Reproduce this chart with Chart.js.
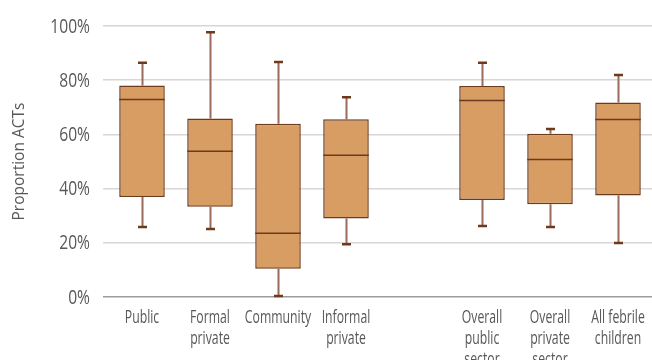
<!DOCTYPE html>
<html>
<head>
<meta charset="utf-8">
<script src="https://cdn.jsdelivr.net/npm/chart.js@4.4.1/dist/chart.umd.min.js"></script>
<style>
  html, body { margin: 0; padding: 0; background: #fff; overflow: hidden; }
  #wrap { width: 652px; height: 360px; position: relative; }
</style>
</head>
<body>
<div id="wrap"><canvas id="boxChart"></canvas></div>
<script>
// categories (the empty slot is the gap between the two groups)
var categories = [
    'Public',
    ['Formal', 'private'],
    'Community',
    ['Informal', 'private'],
    '',
    ['Overall', 'public', 'sector'],
    ['Overall', 'private', 'sector'],
    ['All febrile', 'children']
];
// box plot values, percent
var whiskerLow  = [25.8, 25.1,  0.4, 19.5, null, 26.2, 25.8, 19.9];
var boxLow      = [36.9, 33.3, 10.4, 29.0, null, 35.8, 34.2, 37.5];
var medians     = [72.9, 53.8, 23.5, 52.3, null, 72.5, 50.7, 65.5];
var boxHigh     = [78.0, 65.9, 63.9, 65.6, null, 77.9, 60.2, 71.8];
var whiskerHigh = [86.4, 97.7, 86.7, 73.7, null, 86.4, 62.0, 81.9];
var yTicks = [0, 20, 40, 60, 80, 100];

var FONT = '"Open Sans", "Liberation Sans", sans-serif';
var textColor = '#585858';
var boxFill = '#D79D62';
var darkBrown = '#6E3A1E';
var whiskerColor = '#9A6B5A';

var boxes = categories.map(function (c, i) {
    return boxLow[i] == null ? null : [boxLow[i], boxHigh[i]];
});

// squeezed text, the original uses a condensed face we do not have
function narrowText(ctx, text, x, y, squeeze) {
    ctx.save();
    ctx.translate(x, y);
    ctx.scale(squeeze, 1);
    ctx.fillText(text, 0, 0);
    ctx.restore();
}

var boxPlotExtras = {
    id: 'boxPlotExtras',
    // whiskers under the boxes
    beforeDatasetsDraw: function (chart) {
        var ctx = chart.ctx, x = chart.scales.x, y = chart.scales.y;
        ctx.save();
        for (var i = 0; i < categories.length; i++) {
            if (whiskerLow[i] == null) continue;
            var cx = Math.round(x.getPixelForValue(i)) + 0.5;
            ctx.strokeStyle = whiskerColor;
            ctx.lineWidth = 2;
            ctx.beginPath();
            ctx.moveTo(cx, y.getPixelForValue(boxHigh[i]));
            ctx.lineTo(cx, y.getPixelForValue(whiskerHigh[i]));
            ctx.moveTo(cx, y.getPixelForValue(boxLow[i]));
            ctx.lineTo(cx, y.getPixelForValue(whiskerLow[i]));
            ctx.stroke();
            ctx.strokeStyle = darkBrown;
            ctx.lineWidth = 2.5;
            ctx.beginPath();
            ctx.moveTo(cx - 4.5, y.getPixelForValue(whiskerHigh[i]));
            ctx.lineTo(cx + 4.5, y.getPixelForValue(whiskerHigh[i]));
            ctx.moveTo(cx - 4.5, y.getPixelForValue(whiskerLow[i]));
            ctx.lineTo(cx + 4.5, y.getPixelForValue(whiskerLow[i]));
            ctx.stroke();
        }
        ctx.restore();
    },
    // medians on top
    afterDatasetsDraw: function (chart) {
        var ctx = chart.ctx, y = chart.scales.y;
        var meta = chart.getDatasetMeta(0);
        ctx.save();
        ctx.strokeStyle = darkBrown;
        ctx.lineWidth = 1.5;
        meta.data.forEach(function (bar, i) {
            if (medians[i] == null) return;
            var my = y.getPixelForValue(medians[i]);
            ctx.beginPath();
            ctx.moveTo(bar.x - bar.width / 2, my);
            ctx.lineTo(bar.x + bar.width / 2, my);
            ctx.stroke();
        });
        ctx.restore();
    },
    // tick labels
    afterDraw: function (chart) {
        var ctx = chart.ctx, x = chart.scales.x, y = chart.scales.y;
        ctx.save();
        ctx.fillStyle = textColor;
        ctx.textBaseline = 'middle';
        ctx.textAlign = 'right';
        ctx.font = '19.5px ' + FONT;
        yTicks.forEach(function (v) {
            narrowText(ctx, v + '%', y.left + y.width - 18, y.getPixelForValue(v) + 1, 0.8);
        });
        ctx.textBaseline = 'alphabetic';
        ctx.textAlign = 'center';
        ctx.font = '18px ' + FONT;
        categories.forEach(function (c, i) {
            var lines = [].concat(c);
            lines.forEach(function (line, j) {
                narrowText(ctx, line, x.getPixelForValue(i), x.top + 26 + j * 21, 0.68);
            });
        });
        ctx.restore();
    }
};

var ctx1 = document.getElementById('boxChart').getContext('2d');
var myChart = new Chart(ctx1, {
    type: 'bar',
    data: {
        labels: categories,
        datasets: [{
            label: 'Proportion ACTs',
            data: boxes,
            backgroundColor: boxFill,
            borderColor: darkBrown,
            borderWidth: 1.5,
            borderSkipped: false,
            categoryPercentage: 1,
            barPercentage: 0.67
        }]
    },
    options: {
        responsive: true,
        maintainAspectRatio: false,
        animation: false,
        layout: {
            padding: { top: 26, left: 10, right: 0, bottom: 0 }
        },
        plugins: {
            legend: { display: false },
            tooltip: { enabled: false }
        },
        scales: {
            y: {
                min: 0,
                max: 100,
                afterBuildTicks: function (scale) {
                    scale.ticks = yTicks.map(function (v) { return { value: v }; });
                },
                afterFit: function (scale) { scale.width = 98; },
                ticks: { display: false },
                grid: {
                    color: function (c) { return c.tick && c.tick.value === 0 ? '#9C9C9C' : '#DAD6D3'; },
                    lineWidth: 1.5,
                    tickLength: 5
                },
                border: { display: false },
                title: {
                    display: true,
                    text: 'Proportion ACTs',
                    color: textColor,
                    padding: { top: 0, bottom: 0 },
                    font: { family: FONT, size: 15.5 }
                }
            },
            x: {
                afterFit: function (scale) { scale.height = 63; },
                ticks: { display: false },
                grid: { display: false },
                border: { display: false }
            }
        }
    },
    plugins: [boxPlotExtras]
});
</script>
</body>
</html>
